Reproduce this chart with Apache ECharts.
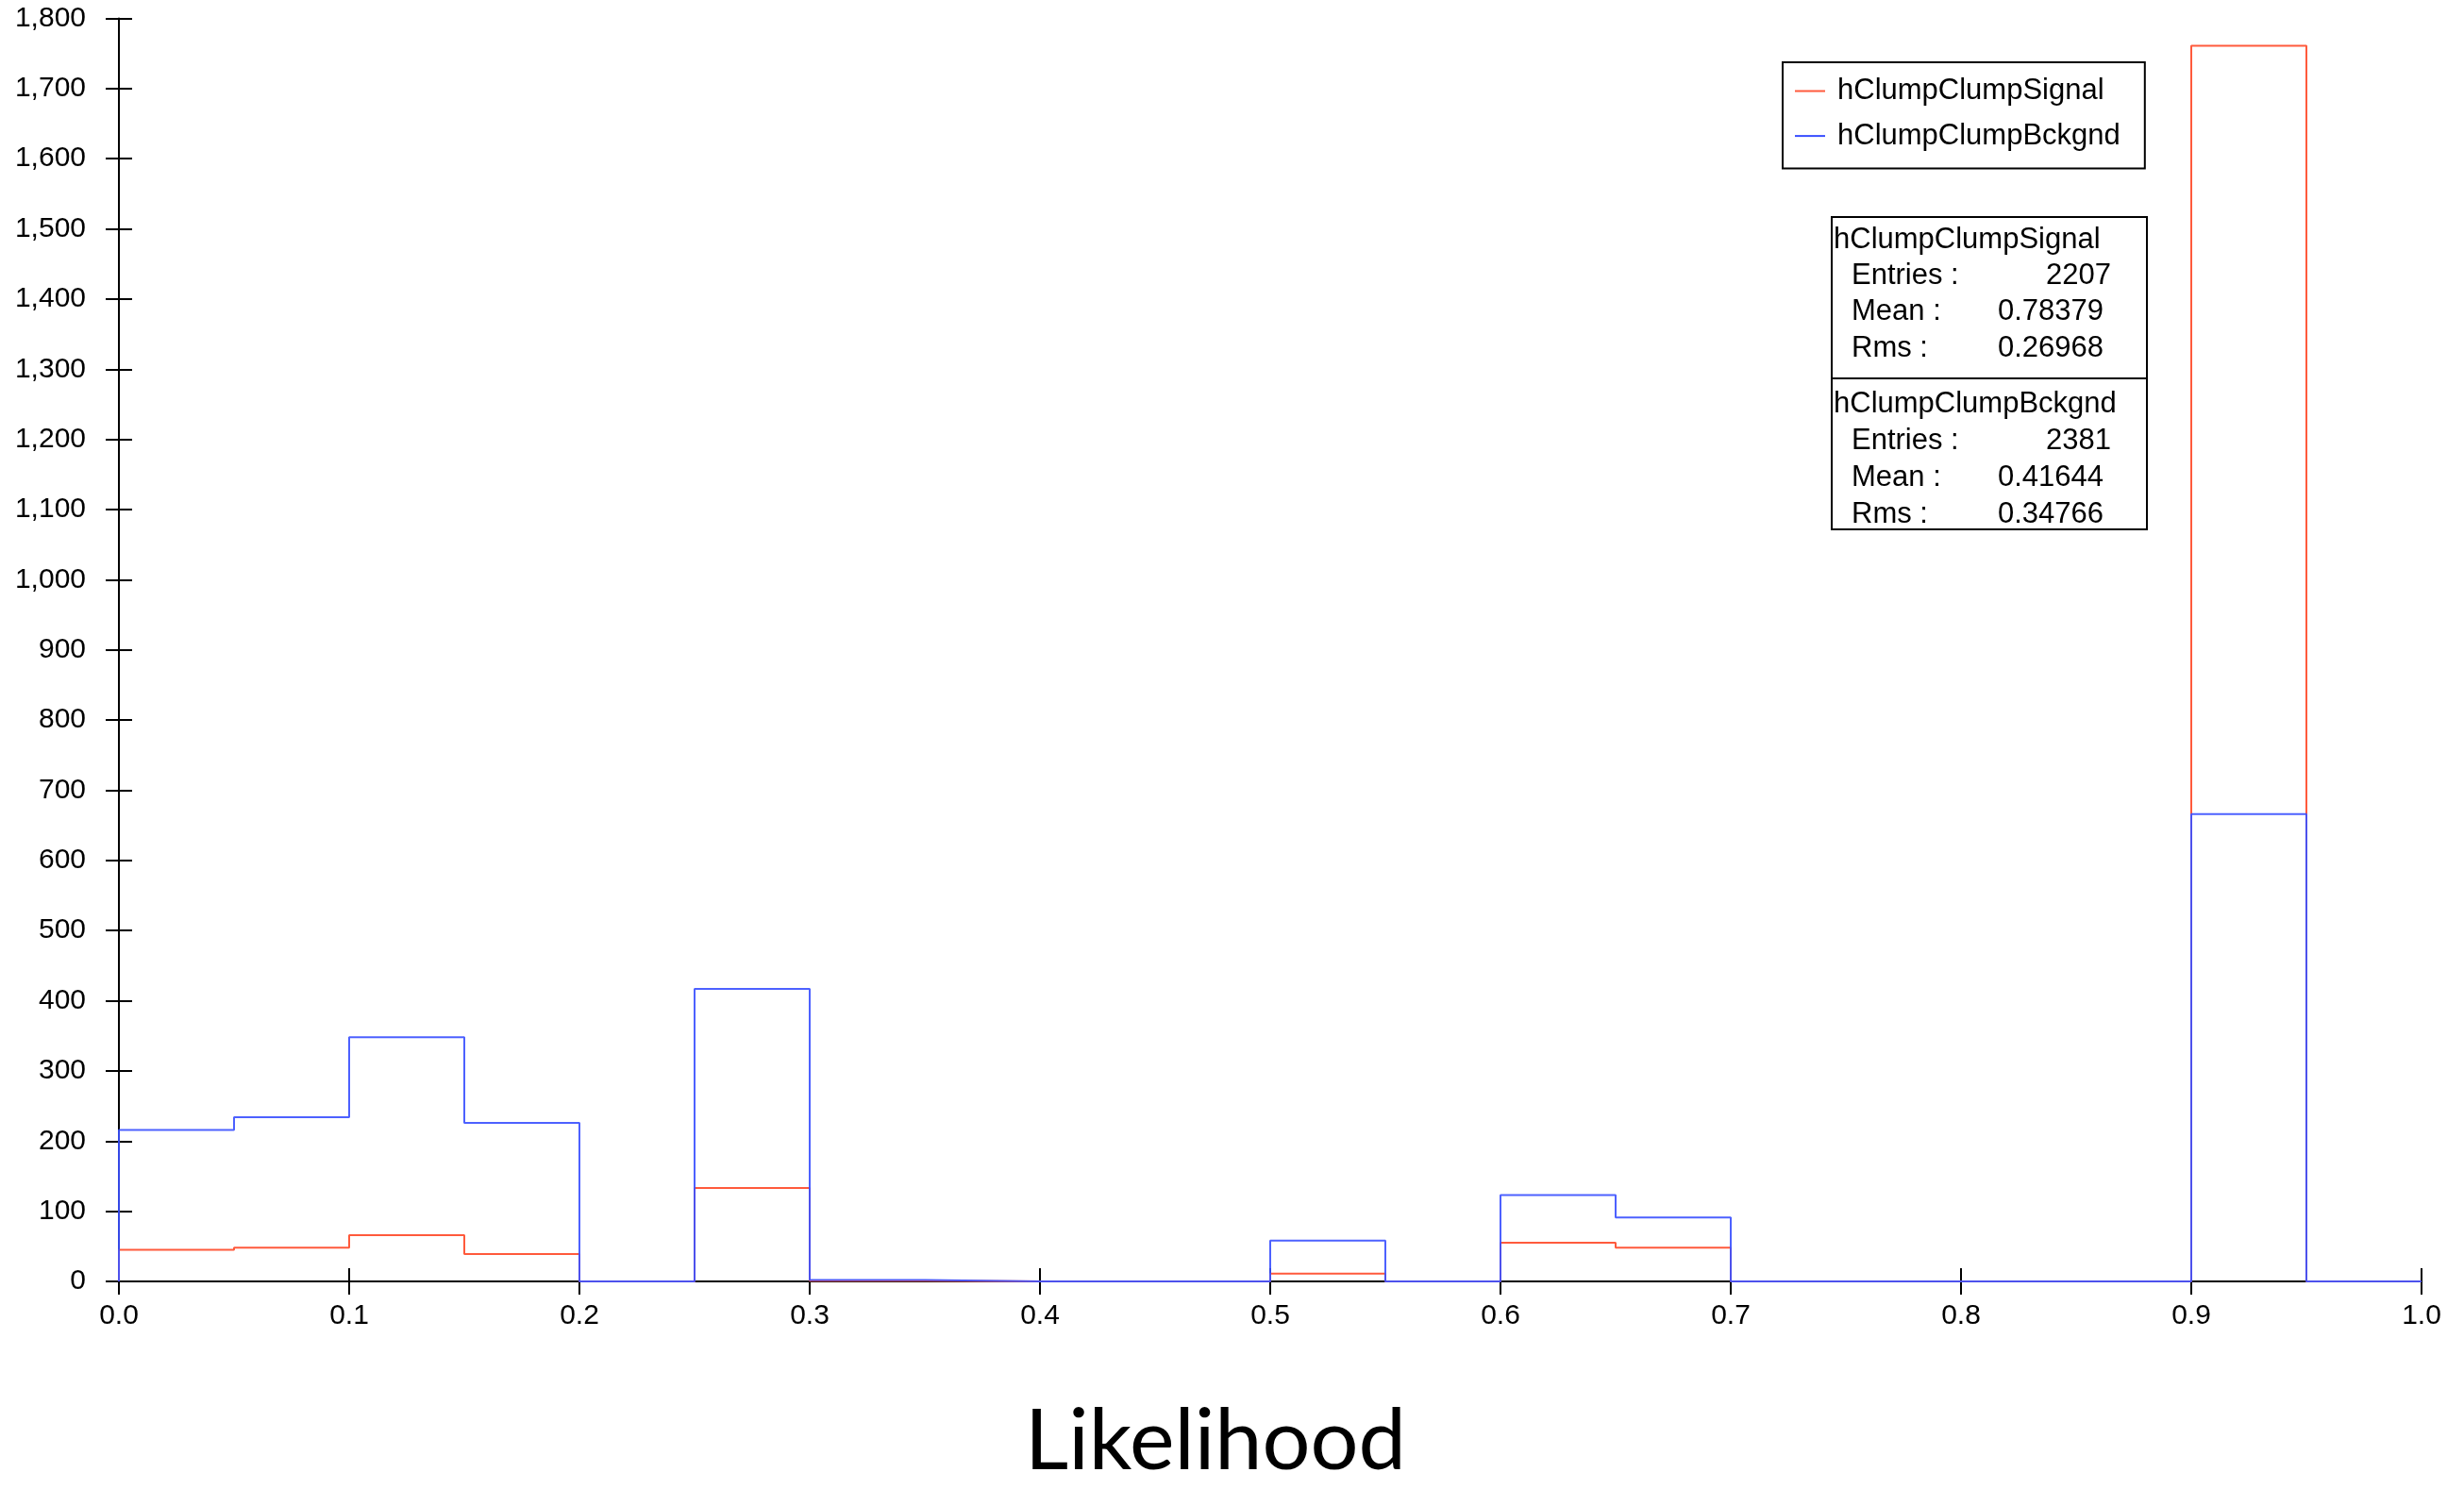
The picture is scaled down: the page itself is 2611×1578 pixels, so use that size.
<!DOCTYPE html>
<html>
<head>
<meta charset="utf-8">
<script src="https://cdn.jsdelivr.net/npm/echarts@6/dist/echarts.min.js"></script>
<style>
html,body{margin:0;padding:0;background:#fff;overflow:hidden;}
#chart{width:2611px;height:1578px;display:block;}
</style>
</head>
<body>
<div id="chart"></div>
<script>
// ---- data ----
const binEdges = [0.00,0.05,0.10,0.15,0.20,0.25,0.30,0.35,0.40,0.45,0.50,0.55,0.60,0.65,0.70,0.75,0.80,0.85,0.90,0.95,1.00];
const signalCounts = [45,48,66,39,0,133,1,0,0,0,11,0,55,48,0,0,0,0,1761,0];
const bckgndCounts = [216,234,348,226,0,417,2,0,0,0,58,0,123,91,0,0,0,0,666,0];
const seriesNames = ['hClumpClumpSignal','hClumpClumpBckgnd'];
const statsSignal = {entries:'2207', mean:'0.78379', rms:'0.26968'};
const statsBckgnd = {entries:'2381', mean:'0.41644', rms:'0.34766'};
const xTitle = 'Likelihood';

function stepData(counts){
  const d = [[binEdges[0],0]];
  for(let i=0;i<counts.length;i++) d.push([binEdges[i],counts[i]]);
  d.push([binEdges[binEdges.length-1],counts[counts.length-1]]);
  return d;
}

const font = '"Liberation Sans", Arial, Helvetica, sans-serif';
const chart = echarts.init(document.getElementById('chart'));

function statText(x,y,text,align){
  return {type:'text', x:x, y:y, style:{text:text, fill:'#000', font:'31px '+font, align:align||'left', verticalAlign:'middle'}, z:20};
}

const option = {
  animation:false,
  backgroundColor:'#fff',
  grid:{left:126,right:45,top:19.5,bottom:207,containLabel:false},
  legend:{
    data:seriesNames,
    left:1889, top:66,
    orient:'vertical',
    icon:'rect', itemWidth:32, itemHeight:2, itemGap:16.6,
    padding:[15,26,19,13],
    borderColor:'#000', borderWidth:2, backgroundColor:'#fff',
    textStyle:{fontFamily:font,fontSize:31,color:'#000',lineHeight:30,padding:[0,0,0,8]},
    selectedMode:false
  },
  xAxis:[{
    type:'value', min:0, max:1, interval:0.1,
    axisLine:{lineStyle:{color:'#000',width:2}},
    axisTick:{show:true,length:14,lineStyle:{color:'#000',width:2}},
    axisLabel:{margin:22,color:'#000',fontFamily:font,fontSize:30,formatter:v=>v.toFixed(1)},
    splitLine:{show:false},
    name:xTitle, nameLocation:'middle', nameGap:125,
    nameTextStyle:{fontFamily:'Lato, "Open Sans", sans-serif',fontSize:90,color:'#000',padding:[0,116,0,0]}
  },{
    type:'value', min:0, max:1, interval:0.1, position:'bottom',
    axisLine:{show:false},
    axisTick:{show:true,inside:true,length:14,lineStyle:{color:'#000',width:2}},
    axisLabel:{show:false}, splitLine:{show:false}
  }],
  yAxis:[{
    type:'value', min:0, max:1800, interval:100,
    axisLine:{show:true,lineStyle:{color:'#000',width:2}},
    axisTick:{show:true,length:14,lineStyle:{color:'#000',width:2}},
    axisLabel:{margin:35,color:'#000',fontFamily:font,fontSize:30,formatter:v=>v.toLocaleString('en-US')},
    splitLine:{show:false}
  },{
    type:'value', min:0, max:1800, interval:100, position:'left',
    axisLine:{show:false},
    axisTick:{show:true,inside:true,length:14,lineStyle:{color:'#000',width:2}},
    axisLabel:{show:false}, splitLine:{show:false}
  }],
  series:[{
    name:seriesNames[0], type:'line', step:'end', symbol:'none',
    data:stepData(signalCounts),
    lineStyle:{color:'#ff5a3c',width:2}, itemStyle:{color:'#ff5a3c'}, z:3
  },{
    name:seriesNames[1], type:'line', step:'end', symbol:'none',
    data:stepData(bckgndCounts),
    lineStyle:{color:'#3a50ff',width:2,opacity:0.9}, itemStyle:{color:'#3a50ff'}, z:4
  }],
  graphic:[
    {type:'rect', shape:{x:1941,y:230,width:334,height:331}, style:{fill:'#fff',stroke:'#000',lineWidth:2}, z:10},
    {type:'line', shape:{x1:1941,y1:401,x2:2275,y2:401}, style:{stroke:'#000',lineWidth:2}, z:11},
    statText(1943,254,seriesNames[0]),
    statText(1962,292,'Entries :'),
    statText(2237,292,statsSignal.entries,'right'),
    statText(1962,330.5,'Mean :'),
    statText(2229,330.5,statsSignal.mean,'right'),
    statText(1962,369.5,'Rms :'),
    statText(2229,369.5,statsSignal.rms,'right'),
    statText(1943,428,seriesNames[1]),
    statText(1962,467.5,'Entries :'),
    statText(2237,467.5,statsBckgnd.entries,'right'),
    statText(1962,506.5,'Mean :'),
    statText(2229,506.5,statsBckgnd.mean,'right'),
    statText(1962,545.5,'Rms :'),
    statText(2229,545.5,statsBckgnd.rms,'right')
  ]
};
chart.setOption(option);
</script>
</body>
</html>
